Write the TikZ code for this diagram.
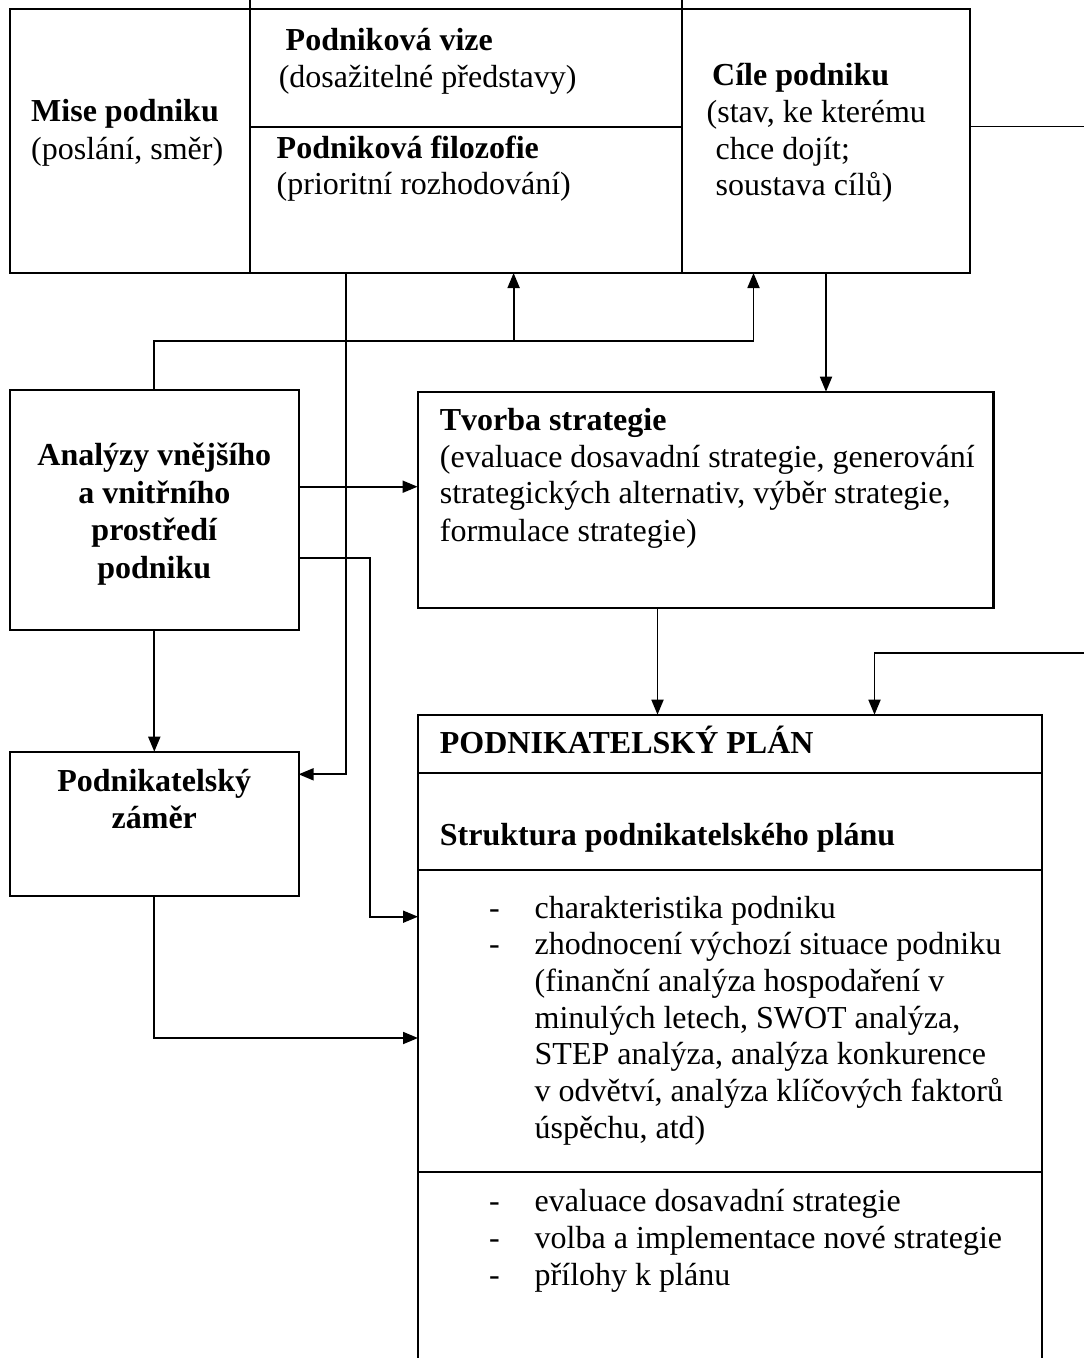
\documentclass[tikz,border=0pt]{standalone}
\usepackage{fontspec}
\setmainfont{Liberation Serif}
\usetikzlibrary{arrows.meta}

\newcommand{\sz}{\fontsize{32}{37}\selectfont}

\tikzset{
  box/.style={draw, line width=2.2pt, inner sep=0pt, outer sep=0pt, anchor=north west},
  txt/.style={inner sep=0pt, anchor=base west, font=\sz},
  bf/.style={font=\sz\bfseries},
  ctxt/.style={inner sep=0pt, anchor=base, font=\sz\bfseries},
  ln/.style={line width=1.8pt},
  arr/.style={line width=1.8pt, -{Triangle[length=15pt,width=12pt]}}
}

\begin{document}
\begin{tikzpicture}[x=1pt,y=-1pt]
  \useasboundingbox (0,0) rectangle (1084,1358);
  \clip (0,0) rectangle (1084,1358);

  % top row
  \node[box, minimum width=240pt, minimum height=264pt] (mise) at (10,9) {};
  \node[box, minimum width=432pt, minimum height=118pt] (vize) at (250,9) {};
  \node[box, minimum width=432pt, minimum height=146pt] (filoz) at (250,127) {};
  \node[box, minimum width=288pt, minimum height=264pt] (cile) at (682,9) {};
  \draw[ln] (mise.north east) -- ++(0,-9);
  \draw[ln] (cile.north west) -- ++(0,-9);

  \node[txt,bf] (misehead) at (31,121.7) {Mise podniku};
  \node[txt] (misesub) at (31,159) {(poslání, směr)};
  \node[txt,bf] (vizehead) at (285.5,50) {Podniková vize};
  \node[txt] (vizesub) at (278.6,87) {(dosažitelné představy)};
  \node[txt,bf] (filozhead) at (276.5,158) {Podniková filozofie};
  \node[txt] (filozsub) at (276.5,194) {(prioritní rozhodování)};
  \node[txt,bf] (cilehead) at (712,85) {Cíle podniku};
  \node[txt] (cile1) at (706.5,122.7) {(stav, ke kterému};
  \node[txt] (cile2) at (715.5,159) {chce dojít;};
  \node[txt] (cile3) at (715.5,195) {soustava cílů)};

  % left column
  \node[box, minimum width=288.6pt, minimum height=240pt] (analyzy) at (10,390) {};
  \foreach \t/\y [count=\i] in {Analýzy vnějšího/465, a vnitřního/503, prostředí/540, podniku/578}
    \node[ctxt] (an\i) at (154.3,\y) {\t};

  \node[box, minimum width=288.6pt, minimum height=144.3pt] (zamer) at (10,751.7) {};
  \node[ctxt] (zm1) at (154.3,791.7) {Podnikatelský};
  \node[ctxt] (zm2) at (154.3,828) {záměr};

  % strategie
  \node[box, minimum width=575.8pt, minimum height=216pt] (tvorba) at (417.6,391.7) {};
  \node[txt,bf] (tvhead) at (439.7,430.7) {Tvorba strategie};
  \node[txt] (tv1) at (439.7,467) {(evaluace dosavadní strategie, generování};
  \node[txt] (tv2) at (439.7,503.5) {strategických alternativ, výběr strategie,};
  \node[txt] (tv3) at (439.7,541) {formulace strategie)};

  % podnikatelsky plan
  \node[box, minimum width=624pt, minimum height=58.3pt] (plan) at (418,714.7) {};
  \node[box, minimum width=624pt, minimum height=96.7pt] (struk) at (418,773) {};
  \node[box, minimum width=624pt, minimum height=302pt] (body) at (418,869.7) {};
  \node[box, minimum width=624pt, minimum height=240pt] (prilohy) at (418,1171.7) {};
  \node[txt,bf] (planhead) at (439.7,753) {PODNIKATELSKÝ PLÁN};
  \node[txt,bf] (strukhead) at (439.7,845) {Struktura podnikatelského plánu};

  \node[txt] (d1) at (489,918) {-};
  \node[txt] (d2) at (489,954.7) {-};
  \node[txt] (b1) at (534.5,918) {charakteristika podniku};
  \node[txt] (b2) at (534.5,954.7) {zhodnocení výchozí situace podniku};
  \node[txt] (b3) at (534.5,991.4) {(finanční analýza hospodaření v};
  \node[txt] (b4) at (534.5,1028.1) {minulých letech, SWOT analýza,};
  \node[txt] (b5) at (534.5,1064.8) {STEP analýza, analýza konkurence};
  \node[txt] (b6) at (534.5,1101.5) {v odvětví, analýza klíčových faktorů};
  \node[txt] (b7) at (534.5,1138.2) {úspěchu, atd)};

  \foreach \t/\y [count=\i] in {evaluace dosavadní strategie/1211.7,
      volba a implementace nové strategie/1248.4, přílohy k plánu/1285.1}{
    \node[txt] (e\i) at (489,\y) {-};
    \node[txt] (p\i) at (534.5,\y) {\t};
  }

  % connectors
  \coordinate (jn) at (513.6,341);
  \coordinate (out) at (1084,126.5);
  \coordinate (fb) at (1084,653);

  \draw[ln] (cile.east |- out) -- (out);
  \draw[arr] (filoz.south -| 345.7,0) |- (zamer.east |- 0,774.3);
  \draw[arr] (analyzy.north) |- (753.5,341) -- (cile.south -| 753.5,0);
  \draw[arr] (jn) -- (filoz.south -| jn);
  \draw[arr] (cile.south -| 826,0) -- (tvorba.north -| 826,0);
  \draw[arr] (analyzy.east |- 0,486.7) -- (tvorba.west |- 0,486.7);
  \draw[arr] (analyzy.east |- 0,557.7) -| (370,916.7) -- (body.west |- 0,916.7);
  \draw[arr] (analyzy.south) -- (zamer.north);
  \draw[arr] (zamer.south) |- (body.west |- 0,1038);
  \draw[arr] (tvorba.south -| 657.5,0) -- (plan.north -| 657.5,0);
  \draw[arr] (fb) -| (plan.north -| 874.5,0);
\end{tikzpicture}
\end{document}
